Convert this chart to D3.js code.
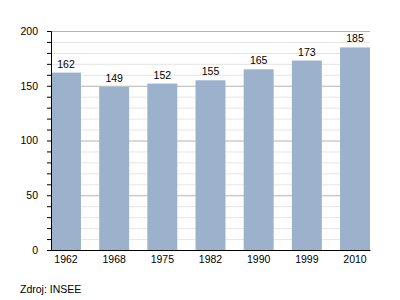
<!DOCTYPE html>
<html>
<head>
<meta charset="utf-8">
<script src="https://cdn.jsdelivr.net/npm/d3@7"></script>
<style>
  body { margin: 0; background: #fff; }
  text { font-family: "Liberation Sans", Arial, sans-serif; }
</style>
</head>
<body>
<div id="chart"></div>
<script>
var years = ['1962', '1968', '1975', '1982', '1990', '1999', '2010'];
var population = [162, 149, 152, 155, 165, 173, 185];
var yTicks = [0, 50, 100, 150, 200];
var source = 'Zdroj: INSEE';

var width = 400, height = 300;
var margin = { top: 31, right: 30, bottom: 50, left: 51 };
var fontSize = 10.5;

var svg = d3.select('#chart')
  .append('svg')
  .attr('width', width)
  .attr('height', height);

var x = d3.scaleBand()
  .domain(years)
  .range([margin.left, width - margin.right])
  .paddingInner(0.378)
  .paddingOuter(0);

var y = d3.scaleLinear()
  .domain([0, 200])
  .range([height - margin.bottom, margin.top]);

// minor grid every 10
svg.append('g')
  .selectAll('line')
  .data(d3.range(10, 201, 10).filter(function (d) { return d % 50 !== 0; }))
  .join('line')
  .attr('x1', margin.left).attr('x2', width - margin.right)
  .attr('y1', function (d) { return y(d) + 0.5; })
  .attr('y2', function (d) { return y(d) + 0.5; })
  .attr('stroke', '#e6e6e6');

// major grid
svg.append('g')
  .selectAll('line')
  .data(yTicks.filter(function (d) { return d > 0; }))
  .join('line')
  .attr('x1', margin.left).attr('x2', width - margin.right)
  .attr('y1', function (d) { return y(d) + 0.5; })
  .attr('y2', function (d) { return y(d) + 0.5; })
  .attr('stroke', '#b4b4b4');

// bars
svg.append('g')
  .selectAll('rect')
  .data(population)
  .join('rect')
  .attr('x', function (d, i) { return x(years[i]); })
  .attr('y', function (d) { return y(d); })
  .attr('width', x.bandwidth())
  .attr('height', function (d) { return y(0) - y(d); })
  .attr('fill', '#9bb1cc');

// value labels
svg.append('g')
  .selectAll('text')
  .data(population)
  .join('text')
  .attr('x', function (d, i) { return x(years[i]) + x.bandwidth() / 2; })
  .attr('y', function (d) { return y(d) - 5; })
  .attr('text-anchor', 'middle')
  .attr('font-size', fontSize)
  .attr('fill', '#000')
  .text(function (d) { return d; });

// y axis with minor ticks
var yAxis = svg.append('g')
  .attr('transform', 'translate(' + margin.left + ',0)');
yAxis.call(d3.axisLeft(y).tickValues(d3.range(0, 201, 10)).tickSize(4).tickFormat(function (d) {
  return yTicks.indexOf(d) >= 0 ? d : '';
}));
yAxis.select('.domain').attr('stroke', '#000');
yAxis.selectAll('.tick line').attr('stroke', '#000');
yAxis.selectAll('.tick text')
  .attr('x', -13)
  .attr('font-size', fontSize)
  .attr('font-family', '"Liberation Sans", Arial, sans-serif')
  .attr('fill', '#000');

// x axis
var xAxis = svg.append('g')
  .attr('transform', 'translate(0,' + (height - margin.bottom) + ')');
xAxis.call(d3.axisBottom(x).tickSize(0).tickPadding(6));
xAxis.select('.domain').attr('stroke', '#000');
xAxis.selectAll('.tick text')
  .attr('font-size', fontSize)
  .attr('font-family', '"Liberation Sans", Arial, sans-serif')
  .attr('fill', '#000');

svg.append('text')
  .attr('x', 20)
  .attr('y', 293)
  .attr('font-size', fontSize)
  .text(source);
</script>
</body>
</html>
